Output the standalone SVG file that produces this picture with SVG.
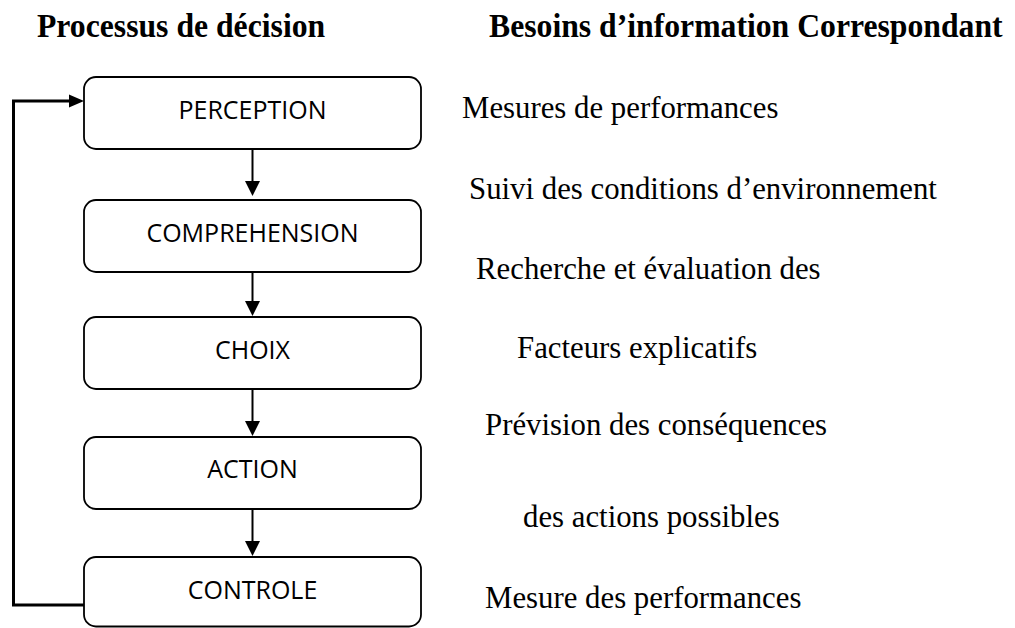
<svg xmlns="http://www.w3.org/2000/svg" width="1015" height="628" viewBox="0 0 1015 628">
  <style>
    .box { fill: #ffffff; stroke: #000000; stroke-width: 1.8; }
    .lbl { font-family: "Open Sans", "Noto Sans", sans-serif; font-size: 25px; fill: #000000; text-anchor: middle; }
    .head { font-family: "Liberation Serif", "Times New Roman", serif; font-weight: bold; font-size: 31.7px; fill: #000000; }
    .info { font-family: "Liberation Serif", "Times New Roman", serif; font-size: 30.8px; fill: #000000; }
    .link { fill: none; stroke: #000000; stroke-width: 2; }
    .loop { fill: none; stroke: #000000; stroke-width: 3; }
    .tip { fill: #000000; }
  </style>

  <rect width="1015" height="628" fill="#ffffff"/>

  <!-- column headings (slightly tall letterforms) -->
  <g id="headings">
    <text class="head" transform="translate(37,37) scale(1,1.08)">Processus de décision</text>
    <text class="head" transform="translate(489,37) scale(1,1.08)">Besoins d’information Correspondant</text>
  </g>

  <!-- connectors -->
  <g id="connectors">
    <line class="link" x1="252.5" y1="149" x2="252.5" y2="184"/>
    <polygon class="tip" points="245,181 260,181 252.5,196"/>
    <line class="link" x1="252.5" y1="272" x2="252.5" y2="304"/>
    <polygon class="tip" points="245,301 260,301 252.5,316"/>
    <line class="link" x1="252.5" y1="389" x2="252.5" y2="424"/>
    <polygon class="tip" points="245,421 260,421 252.5,436"/>
    <line class="link" x1="252.5" y1="509" x2="252.5" y2="544"/>
    <polygon class="tip" points="245,541 260,541 252.5,556"/>
    <!-- feedback loop from CONTROLE back to PERCEPTION -->
    <polyline class="loop" points="84,605 13.5,605 13.5,101 72,101"/>
    <polygon class="tip" points="69,94.5 84,101 69,107.5"/>
  </g>

  <!-- decision process nodes -->
  <g id="perception">
    <rect class="box" x="84" y="77" width="337" height="72" rx="12"/>
    <text class="lbl" x="252.5" y="119">PERCEPTION</text>
  </g>
  <g id="comprehension">
    <rect class="box" x="84" y="200" width="337" height="72" rx="12"/>
    <text class="lbl" x="252.5" y="241.5">COMPREHENSION</text>
  </g>
  <g id="choix">
    <rect class="box" x="84" y="317" width="337" height="72" rx="12"/>
    <text class="lbl" x="252.5" y="359">CHOIX</text>
  </g>
  <g id="action">
    <rect class="box" x="84" y="437" width="337" height="72" rx="12"/>
    <text class="lbl" x="252.5" y="478">ACTION</text>
  </g>
  <g id="controle">
    <rect class="box" x="84" y="557" width="337" height="69.5" rx="12"/>
    <text class="lbl" x="252.5" y="599">CONTROLE</text>
  </g>

  <!-- information needs -->
  <g id="besoins">
    <text class="info" x="462" y="118">Mesures de performances</text>
    <text class="info" x="469" y="199">Suivi des conditions d’environnement</text>
    <text class="info" x="476" y="279">Recherche et évaluation des</text>
    <text class="info" x="517" y="358">Facteurs explicatifs</text>
    <text class="info" x="485" y="435">Prévision des conséquences</text>
    <text class="info" x="523" y="527">des actions possibles</text>
    <text class="info" x="485" y="608">Mesure des performances</text>
  </g>
</svg>
